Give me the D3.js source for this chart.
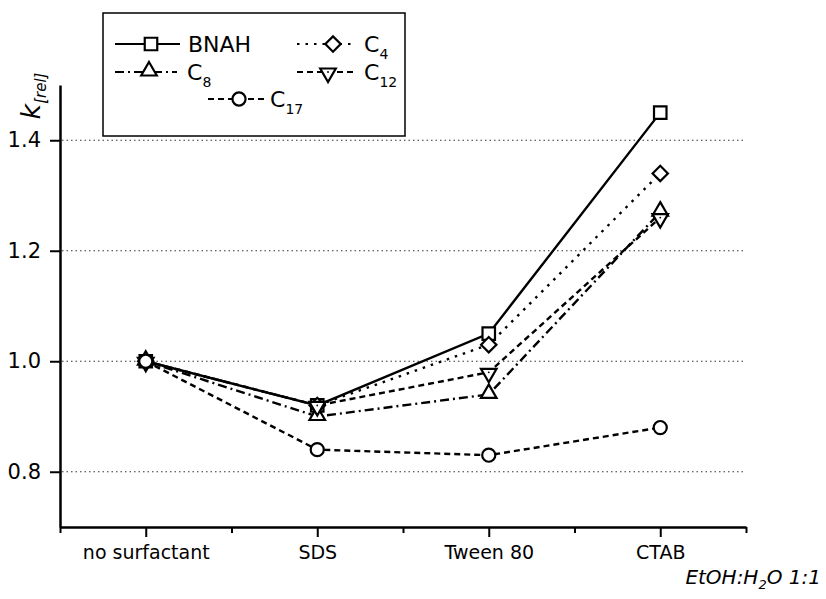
<!DOCTYPE html>
<html>
<head>
<meta charset="utf-8">
<script src="https://cdn.jsdelivr.net/npm/d3@7"></script>
<style>
  body { margin: 0; background: #fff; }
  svg { font-family: "DejaVu Sans", Verdana, sans-serif; }
</style>
</head>
<body>
<div class="chart"></div>
<script>
const width = 826
const height = 599
const margin = { top: 85, right: 80, bottom: 72, left: 60 }

// data
const categories = ["no surfactant", "SDS", "Tween 80", "CTAB"]
const bnah = [1.0, 0.92, 1.05, 1.45]
const c4 = [1.0, 0.92, 1.03, 1.34]
const c8 = [1.0, 0.90, 0.94, 1.27]
const c12 = [1.0, 0.92, 0.98, 1.26]
const c17 = [1.0, 0.84, 0.83, 0.88]
const yTicks = [0.8, 1.0, 1.2, 1.4]

const series = [
    { name: "C", sub: "17", values: c17, symbol: "circle", dash: "6,4" },
    { name: "C", sub: "12", values: c12, symbol: "down", dash: "6,4" },
    { name: "C", sub: "8", values: c8, symbol: "up", dash: "9,4,2,4" },
    { name: "C", sub: "4", values: c4, symbol: "diamond", dash: "2.5,6" },
    { name: "BNAH", sub: "", values: bnah, symbol: "square", dash: null }
]

const svg = d3.select(".chart").append("svg")
    .attr("width", width)
    .attr("height", height)
    .attr("viewBox", [0, 0, width, height])

const x = d3.scalePoint()
    .domain(categories)
    .range([margin.left, width - margin.right])
    .padding(0.5)

const xBounds = d3.scaleLinear()
    .domain([0, categories.length])
    .range([margin.left, width - margin.right])

const y = d3.scaleLinear()
    .domain([0.7, 1.5])
    .range([height - margin.bottom, margin.top])

// dotted gridlines
svg.append("g")
    .selectAll("line")
    .data(yTicks)
    .join("line")
    .attr("x1", margin.left + 2)
    .attr("x2", width - margin.right)
    .attr("y1", d => y(d))
    .attr("y2", d => y(d))
    .attr("stroke", "#333")
    .attr("stroke-width", 1.2)
    .attr("stroke-dasharray", "1.5,3")

// axes
const yAxis = svg.append("g")
    .attr("transform", `translate(${margin.left},0)`)
    .call(d3.axisLeft(y).tickValues(yTicks).tickFormat(d3.format(".1f")).tickSize(10).tickSizeOuter(0).tickPadding(9))
yAxis.select(".domain").attr("stroke-width", 2.5)
yAxis.selectAll(".tick line").attr("stroke-width", 2)
yAxis.selectAll("text").attr("font-size", 21).attr("fill", "#000").attr("font-family", "DejaVu Sans")

const xMinor = svg.append("g")
    .attr("transform", `translate(0,${height - margin.bottom})`)
    .call(d3.axisBottom(xBounds).ticks(categories.length).tickFormat("").tickSize(6).tickSizeOuter(0))
xMinor.select(".domain").attr("stroke-width", 2.5)
xMinor.selectAll(".tick line").attr("stroke-width", 2)

const xAxis = svg.append("g")
    .attr("transform", `translate(0,${height - margin.bottom})`)
    .call(d3.axisBottom(x).tickSize(10).tickSizeOuter(0).tickPadding(9))
xAxis.select(".domain").remove()
xAxis.selectAll(".tick line").attr("stroke-width", 2)
xAxis.selectAll("text").attr("font-size", 19).attr("fill", "#000").attr("font-family", "DejaVu Sans")

// y label
const ylab = svg.append("text")
    .attr("transform", "translate(40,96) rotate(-90)")
    .attr("text-anchor", "middle")
    .attr("font-style", "italic")
    .attr("font-size", 27)
ylab.append("tspan").text("k")
ylab.append("tspan").attr("font-size", 15).attr("dy", 6).text("[rel]")

// solvent note
const note = svg.append("text")
    .attr("x", 821)
    .attr("y", 584)
    .attr("text-anchor", "end")
    .attr("font-style", "italic")
    .attr("font-size", 20)
note.append("tspan").text("EtOH:H")
note.append("tspan").attr("font-size", 13).attr("dy", 5).text("2")
note.append("tspan").attr("dy", -5).text("O 1:1")

function drawSymbol(g, type) {
    if (type === "square") {
        g.append("path").attr("d", d3.symbol(d3.symbolSquare, 156)())
    } else if (type === "diamond") {
        g.append("path").attr("d", d3.symbol(d3.symbolSquare, 118)()).attr("transform", "rotate(45)")
    } else if (type === "up") {
        g.append("path").attr("d", d3.symbol(d3.symbolTriangle, 105)()).attr("transform", "translate(0,-1)")
    } else if (type === "down") {
        g.append("path").attr("d", d3.symbol(d3.symbolTriangle, 105)()).attr("transform", "translate(0,1) rotate(180)")
        g.append("circle").attr("r", 0.9).attr("fill", "#000").attr("stroke", "none")
    } else {
        g.append("path").attr("d", d3.symbol(d3.symbolCircle, 135)())
    }
    g.selectAll("path")
        .attr("fill", "#fff")
        .attr("stroke", "#000")
        .attr("stroke-width", 2.2)
}

const line = d3.line()
    .x((d, i) => x(categories[i]))
    .y(d => y(d))

svg.append("g")
    .selectAll("path")
    .data(series)
    .join("path")
    .attr("d", d => line(d.values))
    .attr("fill", "none")
    .attr("stroke", "#000")
    .attr("stroke-width", 2.4)
    .attr("stroke-dasharray", d => d.dash)

// markers: BNAH underneath, C17 on top
series.slice().reverse().forEach(s => {
    s.values.forEach((v, i) => {
        const g = svg.append("g").attr("transform", `translate(${x(categories[i])},${y(v)})`)
        drawSymbol(g, s.symbol)
    })
})

// legend
const legend = svg.append("g")
legend.append("rect")
    .attr("x", 103).attr("y", 13)
    .attr("width", 302).attr("height", 123)
    .attr("fill", "#fff")
    .attr("stroke", "#000")
    .attr("stroke-width", 1.5)

const legendPos = {
    "BNAH": { x1: 115, x2: 180, cx: 151, tx: 188, y: 44 },
    "4": { x1: 297, x2: 355, cx: 333, tx: 364, y: 44 },
    "8": { x1: 115, x2: 177, cx: 149, tx: 187, y: 72 },
    "12": { x1: 297, x2: 355, cx: 328, tx: 364, y: 72 },
    "17": { x1: 208, x2: 266, cx: 239, tx: 270, y: 99 }
}

series.forEach(s => {
    const p = legendPos[s.sub || s.name]
    legend.append("line")
        .attr("x1", p.x1).attr("x2", p.x2)
        .attr("y1", p.y).attr("y2", p.y)
        .attr("stroke", "#000")
        .attr("stroke-width", 2.2)
        .attr("stroke-dasharray", s.dash)
    const g = legend.append("g").attr("transform", `translate(${p.cx},${p.y})`)
    drawSymbol(g, s.symbol)
    const t = legend.append("text")
        .attr("x", p.tx).attr("y", p.y + 8)
        .attr("font-size", 22)
    t.append("tspan").text(s.name)
    if (s.sub) t.append("tspan").attr("font-size", 14).attr("dy", 7).text(s.sub)
})
</script>
</body>
</html>
